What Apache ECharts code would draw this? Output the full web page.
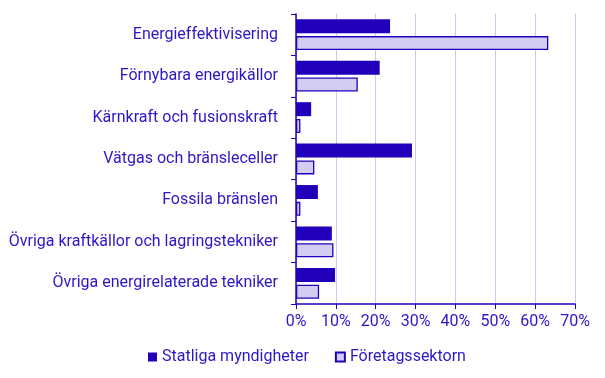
<!DOCTYPE html>
<html>
<head>
<meta charset="utf-8">
<script src="https://cdn.jsdelivr.net/npm/echarts@6/dist/echarts.min.js"></script>
<style>
  html, body { margin: 0; padding: 0; background: #fff; }
  #chart { width: 605px; height: 378px; }
</style>
</head>
<body>
<div id="chart"></div>
<script>
// kategorier (uppifrån och ned)
const categories = [
  "Energieffektivisering",
  "Förnybara energikällor",
  "Kärnkraft och fusionskraft",
  "Vätgas och bränsleceller",
  "Fossila bränslen",
  "Övriga kraftkällor och lagringstekniker",
  "Övriga energirelaterade tekniker"
];
// andel i procent
const statliga = [23.6, 21.0, 3.8, 29.1, 5.5, 9.0, 9.8];
const foretag = [63.3, 15.5, 1.1, 4.6, 1.1, 9.4, 5.8];
const seriesNames = ["Statliga myndigheter", "Företagssektorn"];

const textColor = "#2d16c8";
const axisColor = "#2200bb";

const chart = echarts.init(document.getElementById("chart"));

const option = {
  animation: false,
  textStyle: { fontFamily: "Roboto", color: textColor },
  grid: {
    left: 296,
    right: 30,
    top: 14,
    bottom: 74,
    containLabel: false
  },
  legend: {
    top: 344,
    left: 143,
    itemWidth: 9,
    itemHeight: 9,
    itemGap: 26,
    icon: "rect",
    textStyle: { fontSize: 16, color: textColor, fontFamily: "Roboto" },
    data: seriesNames
  },
  xAxis: {
    type: "value",
    min: 0,
    max: 70,
    interval: 10,
    axisLine: { show: true, lineStyle: { color: axisColor, width: 1.5 } },
    axisTick: { show: true, length: 5, lineStyle: { color: axisColor } },
    axisLabel: {
      formatter: "{value}%",
      fontSize: 16,
      color: textColor,
      margin: 10
    },
    splitLine: { show: true, lineStyle: { color: "#cfc9f1", width: 1 } }
  },
  yAxis: {
    type: "category",
    data: categories,
    inverse: true,
    axisLine: { show: true, lineStyle: { color: axisColor, width: 1.5 } },
    axisTick: { show: true, length: 5, lineStyle: { color: axisColor } },
    axisLabel: {
      fontSize: 16,
      color: textColor,
      margin: 18
    }
  },
  series: [
    {
      name: seriesNames[0],
      type: "bar",
      data: statliga,
      barWidth: 14,
      barGap: "20%",
      itemStyle: { color: "#2200bb" }
    },
    {
      name: seriesNames[1],
      type: "bar",
      data: foretag,
      barWidth: 14,
      itemStyle: { color: "#d3cdf1", borderColor: "#2200bb", borderWidth: 1.3 }
    }
  ]
};

chart.setOption(option);
</script>
</body>
</html>
